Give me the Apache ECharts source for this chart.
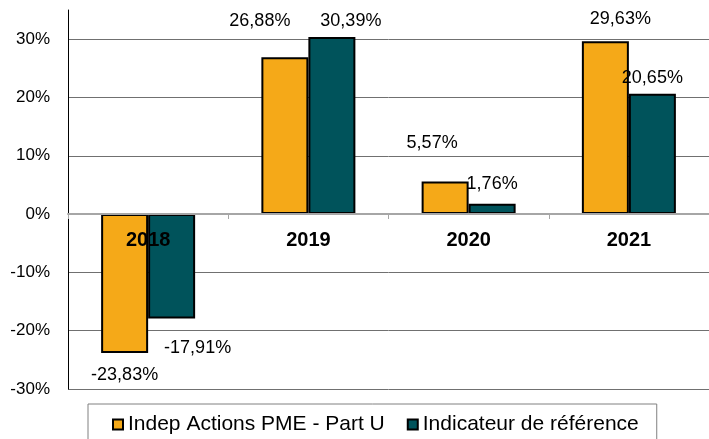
<!DOCTYPE html>
<html>
<head>
<meta charset="utf-8">
<script src="https://cdn.jsdelivr.net/npm/echarts@6/dist/echarts.min.js"></script>
<style>
  html, body { margin: 0; padding: 0; background: #fff; }
  #chart { width: 709px; height: 439px; }
</style>
</head>
<body>
<div id="chart"></div>
<script>
const categories = ['2018', '2019', '2020', '2021'];
const fundName = 'Indep Actions PME - Part U';
const benchName = 'Indicateur de référence';
const fundValues = [-23.83, 26.88, 5.57, 29.63];
const benchValues = [-17.91, 30.39, 1.76, 20.65];
// label nudges, same as in the source picture
const fundLabelOffsets = [[0, 13], [-25, -27], [-13, -30], [15, -13]];
const benchLabelOffsets = [[26, 21], [19, -7], [0, -11], [0, -7]];

const font = 'Liberation Sans, Arial, sans-serif';

function fmt(v) {
  return v.toFixed(2).replace('.', ',') + '%';
}

function buildData(values, offsets) {
  return values.map(function (v, i) {
    return {
      value: v,
      label: { position: v < 0 ? 'bottom' : 'top', offset: offsets[i] }
    };
  });
}

const chart = echarts.init(document.getElementById('chart'));
chart.setOption({
  animation: false,
  textStyle: { fontFamily: font },
  grid: { left: 68, top: 10, width: 650, bottom: 50, containLabel: false },
  legend: {
    top: 404,
    left: 88,
    padding: [10, 18, 14, 24],
    borderColor: '#808080',
    borderWidth: 1,
    itemGap: 22,
    itemWidth: 10,
    itemHeight: 10,
    icon: 'rect',
    textStyle: { fontSize: 21, color: '#000', fontFamily: font },
    data: [fundName, benchName]
  },
  xAxis: {
    type: 'category',
    data: categories,
    z: 5, // year labels are painted over the 2018 bars
    // axis sits on the 0% line: 35 units above it out of 65, over 379px
    offset: -175,
    axisLine: { onZero: false, lineStyle: { color: '#a6a6a6', width: 2 } },
    axisTick: { show: true, length: 5, lineStyle: { color: '#a6a6a6', width: 1 } },
    axisLabel: { fontSize: 20, fontWeight: 'bold', color: '#000', margin: 16, fontFamily: font }
  },
  yAxis: {
    type: 'value',
    min: -30,
    max: 35,
    interval: 10,
    axisLine: { show: true, lineStyle: { color: '#000', width: 1 } },
    axisTick: { show: false },
    axisLabel: {
      fontSize: 17,
      color: '#000',
      margin: 18,
      showMaxLabel: false,
      fontFamily: font,
      formatter: function (v) { return v + '%'; }
    },
    splitLine: {
      show: true,
      lineStyle: {
        color: ['#707070', '#707070', '#707070', '#707070', '#707070', '#707070', '#707070', 'rgba(0,0,0,0)'],
        width: 1
      }
    }
  },
  series: [
    {
      name: fundName,
      type: 'bar',
      barWidth: 47,
      barGap: '0%',
      data: buildData(fundValues, fundLabelOffsets),
      itemStyle: { color: '#f5a918', borderColor: '#000', borderWidth: 2 },
      label: {
        show: true,
        distance: 0,
        fontSize: 18,
        color: '#000',
        fontFamily: font,
        formatter: function (p) { return fmt(p.value); }
      }
    },
    {
      name: benchName,
      type: 'bar',
      barWidth: 47,
      data: buildData(benchValues, benchLabelOffsets),
      itemStyle: { color: '#00535b', borderColor: '#000', borderWidth: 2 },
      label: {
        show: true,
        distance: 0,
        fontSize: 18,
        color: '#000',
        fontFamily: font,
        formatter: function (p) { return fmt(p.value); }
      }
    }
  ]
});
</script>
</body>
</html>
